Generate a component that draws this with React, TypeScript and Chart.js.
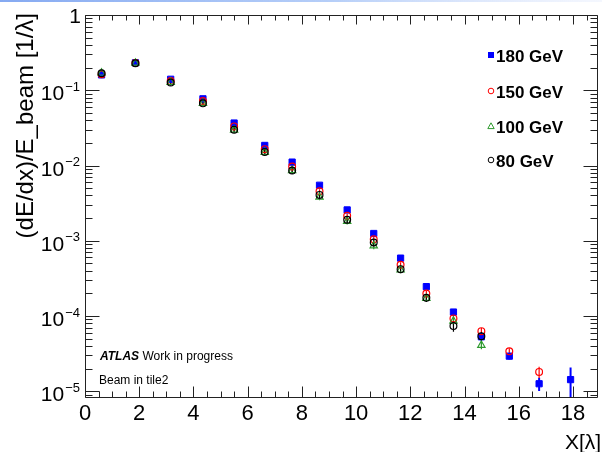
import React, { useEffect, useRef } from 'react';
import { Chart, registerables } from 'chart.js';

Chart.register(...registerables);

// ---- data ----
const depthLambda = [0.61, 1.86, 3.16, 4.35, 5.50, 6.63, 7.64, 8.65, 9.67, 10.65, 11.64, 12.59, 13.59, 14.62, 15.65, 16.75, 17.91];

const e180 = [0.160, 0.232, 0.140, 0.077, 0.0367, 0.0185, 0.0111, 0.00547, 0.00257, 0.00125, 5.88e-4, 2.46e-4, 1.13e-4, 5.3e-5, 2.93e-5, 1.26e-5, 1.43e-5];
const e150 = [0.163, 0.230, 0.133, 0.072, 0.0331, 0.0165, 0.0097, 0.00455, 0.00215, 0.00105, 4.79e-4, 1.99e-4, 9.3e-5, 6.3e-5, 3.4e-5, 1.81e-5, null];
const e100 = [0.170, 0.230, 0.128, 0.067, 0.0296, 0.0150, 0.0086, 0.0038, 0.00181, 0.00086, 4.1e-4, 1.72e-4, 8.6e-5, 4.1e-5, null, null, null];
const e80 = [0.168, 0.228, 0.127, 0.067, 0.0299, 0.0151, 0.0086, 0.00407, 0.0019, 0.00095, 4.2e-4, 1.75e-4, 7.36e-5, 5.4e-5, null, null, null];

// relative statistical errors
const relErr180 = [0.03, 0.03, 0.03, 0.03, 0.03, 0.03, 0.03, 0.03, 0.03, 0.04, 0.04, 0.05, 0.06, 0.08, 0.1, 0.2, 0.45];
const relErr150 = [0.06, 0.06, 0.06, 0.06, 0.06, 0.06, 0.06, 0.06, 0.07, 0.07, 0.08, 0.09, 0.1, 0.1, 0.1, 0.17, null];
const relErr100 = [0.08, 0.08, 0.08, 0.08, 0.08, 0.08, 0.09, 0.09, 0.09, 0.1, 0.1, 0.11, 0.12, 0.12, null, null, null];
const relErr80 = [0.09, 0.09, 0.09, 0.09, 0.09, 0.09, 0.1, 0.1, 0.1, 0.11, 0.11, 0.12, 0.16, 0.14, null, null, null];

const seriesLabels = ['180 GeV', '150 GeV', '100 GeV', '80 GeV'];
const xTickValues = [0, 2, 4, 6, 8, 10, 12, 14, 16, 18];
const yTickExponents = [0, -1, -2, -3, -4, -5];

const xTitle = 'X[λ]';
const yTitle = '(dE/dx)/E_beam [1/λ]';
const atlasBold = 'ATLAS';
const atlasRest = ' Work in progress';
const beamText = 'Beam in tile2';

const FONT = '"Liberation Sans", Arial, Helvetica, sans-serif';

function buildPoints(vals: (number | null)[], errs: (number | null)[]) {
  const out: any[] = [];
  depthLambda.forEach((x, i) => {
    const v = vals[i];
    if (v !== null && v !== undefined) out.push({ x, y: v, err: errs[i] ?? 0 });
  });
  return out;
}

const styles = [
  { color: '#0000ff', style: 'rect', radius: 4.4, fill: '#0000ff', bw: 1 },
  { color: '#ff0000', style: 'circle', radius: 3.4, fill: 'rgba(0,0,0,0)', bw: 1.2 },
  { color: '#2e9a2e', style: 'triangle', radius: 4.2, fill: 'rgba(0,0,0,0)', bw: 1.2 },
  { color: '#000000', style: 'circle', radius: 3.4, fill: 'rgba(0,0,0,0)', bw: 1.2 },
];

const rootPlugin = {
  id: 'rootStyle',
  beforeDatasetsDraw(chart: any) {
    const ctx = chart.ctx;
    const area = chart.chartArea;
    const ys = chart.scales.y;
    ctx.save();
    ctx.beginPath();
    ctx.rect(area.left, area.top, area.right - area.left, area.bottom - area.top);
    ctx.clip();
    chart.data.datasets.forEach((ds: any, di: number) => {
      const meta = chart.getDatasetMeta(di);
      ctx.strokeStyle = styles[di].color;
      ctx.lineWidth = di === 0 ? 2 : 1.2;
      ds.data.forEach((p: any, i: number) => {
        const el = meta.data[i];
        if (!el || !p.err) return;
        const hi = p.y * (1 + p.err);
        const lo = Math.max(p.y * (1 - p.err), 1e-9);
        const yHi = ys.getPixelForValue(hi);
        const yLo = ys.getPixelForValue(lo);
        ctx.beginPath();
        ctx.moveTo(el.x, yHi);
        ctx.lineTo(el.x, yLo);
        ctx.stroke();
      });
    });
    ctx.restore();
  },
  afterDraw(chart: any) {
    const ctx = chart.ctx;
    const a = chart.chartArea;
    const xs = chart.scales.x;
    const ys = chart.scales.y;
    const L = Math.round(a.left) + 0.5;
    const R = Math.round(a.right) + 0.5;
    const T = Math.round(a.top) + 0.5;
    const B = Math.round(a.bottom) + 0.5;
    ctx.save();

    // top highlight line (screenshot border)
    const g = ctx.createLinearGradient(0, 0, 602, 0);
    g.addColorStop(0, 'rgba(120,160,240,0.9)');
    g.addColorStop(0.55, 'rgba(150,185,245,0.7)');
    g.addColorStop(1, 'rgba(200,215,250,0.2)');
    ctx.fillStyle = g;
    ctx.fillRect(0, 0, 602, 2);

    // frame
    ctx.strokeStyle = '#222';
    ctx.lineWidth = 1;
    ctx.beginPath();
    ctx.moveTo(L, T); ctx.lineTo(R, T); ctx.lineTo(R, B); ctx.lineTo(L, B); ctx.closePath();
    ctx.stroke();

    // x ticks (bottom and top)
    ctx.beginPath();
    for (let v = 0; v <= xs.max + 1e-9; v += 0.5) {
      const px = Math.round(xs.getPixelForValue(v)) + 0.5;
      const major = Math.abs(v / 2 - Math.round(v / 2)) < 1e-9;
      const lb = major ? 11 : 6;
      const lt = major ? 9 : 5;
      ctx.moveTo(px, B); ctx.lineTo(px, B - lb);
      ctx.moveTo(px, T); ctx.lineTo(px, T + lt);
    }
    // y ticks (left and right)
    const minLog = Math.floor(Math.log10(ys.min));
    for (let n = minLog; n <= 0; n++) {
      for (let k = 1; k <= 9; k++) {
        const v = k * Math.pow(10, n);
        if (v < ys.min * 0.9999 || v > ys.max * 1.0001) continue;
        const py = Math.round(ys.getPixelForValue(v)) + 0.5;
        const len = k === 1 ? 14 : 7;
        ctx.moveTo(L, py); ctx.lineTo(L + len, py);
        ctx.moveTo(R, py); ctx.lineTo(R - len, py);
      }
    }
    ctx.stroke();

    ctx.fillStyle = '#000';
    // x tick labels
    ctx.font = `22px ${FONT}`;
    ctx.textAlign = 'center';
    ctx.textBaseline = 'alphabetic';
    xTickValues.forEach((v) => {
      ctx.fillText(String(v), xs.getPixelForValue(v), 420);
    });

    // y tick labels
    yTickExponents.forEach((e) => {
      const py = ys.getPixelForValue(Math.pow(10, e));
      const rightX = 80;
      if (e === 0) {
        ctx.font = `21px ${FONT}`;
        ctx.textAlign = 'right';
        ctx.fillText('1', rightX + 1, py + 7.5);
        return;
      }
      const sup = '\u2212' + String(-e);
      ctx.font = `13px ${FONT}`;
      const supW = ctx.measureText(sup).width;
      ctx.textAlign = 'left';
      ctx.fillText(sup, rightX - supW, py + 0.5);
      ctx.font = `21px ${FONT}`;
      const tenW = ctx.measureText('10').width;
      ctx.fillText('10', rightX - supW - tenW - 1, py + 10);
    });

    // axis titles
    ctx.font = `21px ${FONT}`;
    ctx.textAlign = 'left';
    ctx.textBaseline = 'alphabetic';
    ctx.fillText(xTitle, 565, 449);
    ctx.font = `24px ${FONT}`;
    ctx.save();
    ctx.translate(33, 13);
    ctx.rotate(-Math.PI / 2);
    ctx.textAlign = 'right';
    ctx.fillText(yTitle, 0, 0);
    ctx.restore();

    // legend
    const legendY = [55, 91, 126, 160];
    seriesLabels.forEach((lab, i) => {
      const s = styles[i];
      const mx = 491;
      const my = legendY[i];
      ctx.strokeStyle = s.color;
      ctx.fillStyle = s.color;
      ctx.lineWidth = 1;
      ctx.beginPath();
      if (s.style === 'rect') {
        ctx.fillRect(mx - 3, my - 3, 6, 6);
      } else if (s.style === 'circle') {
        ctx.arc(mx, my, 2.8, 0, Math.PI * 2);
        ctx.stroke();
      } else {
        ctx.moveTo(mx, my - 3.2);
        ctx.lineTo(mx + 3.2, my + 2.6);
        ctx.lineTo(mx - 3.2, my + 2.6);
        ctx.closePath();
        ctx.stroke();
      }
      ctx.fillStyle = '#000';
      ctx.font = `bold 17px ${FONT}`;
      ctx.textAlign = 'left';
      ctx.textBaseline = 'alphabetic';
      ctx.fillText(lab, 496, my + 6.5);
    });

    // ATLAS labels
    ctx.fillStyle = '#000';
    ctx.textAlign = 'left';
    ctx.font = `italic bold 12px ${FONT}`;
    ctx.fillText(atlasBold, 100, 359.5);
    const aw = ctx.measureText(atlasBold).width;
    ctx.font = `12px ${FONT}`;
    ctx.fillText(atlasRest, 100 + aw, 359.5);
    ctx.fillText(beamText, 99, 383.5);

    ctx.restore();
  },
};

export default function App() {
  const ref = useRef<HTMLCanvasElement | null>(null);
  useEffect(() => {
    if (!ref.current) return;
    const allVals = [e180, e150, e100, e80];
    const allErrs = [relErr180, relErr150, relErr100, relErr80];
    const chart = new Chart(ref.current, {
      type: 'scatter',
      data: {
        datasets: seriesLabels.map((label, i) => ({
          label,
          data: buildPoints(allVals[i], allErrs[i]),
          showLine: false,
          pointStyle: styles[i].style as any,
          pointRadius: styles[i].radius,
          pointHoverRadius: styles[i].radius,
          pointBackgroundColor: styles[i].fill,
          pointBorderColor: styles[i].color,
          pointBorderWidth: styles[i].bw,
          order: 4 - i,
        })),
      },
      options: {
        responsive: false,
        animation: false,
        devicePixelRatio: 1,
        layout: { padding: { left: 85, right: 0, top: 15, bottom: 55 } },
        plugins: { legend: { display: false }, tooltip: { enabled: false } },
        events: [],
        scales: {
          x: { type: 'linear', min: 0, max: 18.87, display: false },
          y: { type: 'logarithmic', min: 8.4e-6, max: 1, display: false },
        },
      },
      plugins: [rootPlugin],
    });
    return () => chart.destroy();
  }, []);
  return (
    <div style={{ position: 'absolute', left: 0, top: 0, width: 602, height: 452, background: '#fff' }}>
      <canvas ref={ref} width={602} height={452} style={{ display: 'block' }} />
    </div>
  );
}
